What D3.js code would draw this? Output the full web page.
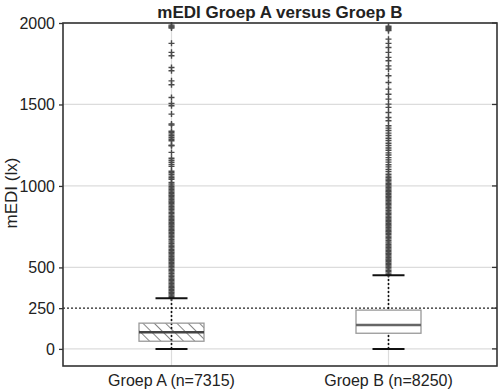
<!DOCTYPE html>
<html>
<head>
<meta charset="utf-8">
<script src="https://cdn.jsdelivr.net/npm/d3@7"></script>
<style>
body { margin: 0; background: #fff; }
text { font-family: "Liberation Sans", Arial, sans-serif; fill: #222; }
</style>
</head>
<body>
<svg id="chart" width="499" height="391"></svg>
<script>
// groups and box statistics (lx)
var groups = ['Groep A (n=7315)', 'Groep B (n=8250)'];
var q1 = [47, 96];
var medians = [102, 147];
var q3 = [158, 238];
var whiskLow = [0, 0];
var whiskHigh = [311, 452];
var threshold = 250;
var yTicks = [0, 250, 500, 1000, 1500, 2000];
var gridTicks = [0, 500, 1000, 1500, 2000];

var outliersA = [314,322,331,340,348,357,366,375,383,392,401,410,418,427,436,445,453,462,471,480,488,497,506,515,523,532,541,550,558,567,576,585,593,602,611,620,628,637,646,655,663,672,681,690,698,707,716,725,733,742,751,760,768,777,786,795,803,812,821,830,838,847,856,865,873,882,891,900,908,917,926,935,943,952,961,970,978,987,996,1005,1013,1022,
  1041,1050,1060,1072,1082,1090,1120,1132,1145,1158,1170,1206,1246,1250,1277,1287,1297,1308,1318,1328,1336,1373,1380,1441,1492,1506,1543,1621,1645,1707,1727,1799,1820,1875,1969,1975,1981,1987];
var outliersB = [456,465,474,482,491,500,509,517,526,535,544,552,561,570,579,587,596,605,614,622,631,640,649,657,666,675,684,692,701,710,719,727,736,745,754,762,771,780,789,797,806,815,824,832,841,850,859,867,876,885,894,902,911,920,929,937,946,955,964,972,981,990,999,1007,1016,1025,1034,1042,1051,1060,
  1072,1088,1101,1117,1130,1146,1160,1174,1190,1203,1219,1233,1248,1262,1279,1293,1310,1324,1340,1355,1369,1400,1420,1451,1482,1502,1533,1563,1594,1635,1676,1717,1737,1768,1789,1820,1850,1875,1901,1953,1960,1967,1973,1980];
var outliers = [outliersA, outliersB];

var plotLeft = 63, plotRight = 497, plotTop = 23, plotBottom = 366;
var svg = d3.select('#chart');

var x = d3.scalePoint().domain(groups).range([plotLeft, plotRight]).padding(0.5);
var y = d3.scaleLinear().domain([-105, 2000]).range([plotBottom, plotTop]);

var defs = svg.append('defs');
var pat = defs.append('pattern')
    .attr('id', 'hatch')
    .attr('patternUnits', 'userSpaceOnUse')
    .attr('width', 8).attr('height', 8)
    .attr('patternTransform', 'rotate(-45)');
pat.append('line')
    .attr('x1', 0).attr('y1', 0).attr('x2', 0).attr('y2', 8)
    .attr('stroke', '#333').attr('stroke-width', 1.2);

// grid
svg.append('g').selectAll('line')
    .data(gridTicks)
    .enter().append('line')
    .attr('x1', plotLeft).attr('x2', plotRight)
    .attr('y1', function (d) { return y(d); })
    .attr('y2', function (d) { return y(d); })
    .attr('stroke', '#dcdcdc').attr('stroke-width', 1.2);
svg.append('g').selectAll('line')
    .data(groups)
    .enter().append('line')
    .attr('x1', function (d) { return x(d); })
    .attr('x2', function (d) { return x(d); })
    .attr('y1', plotTop).attr('y2', plotBottom)
    .attr('stroke', '#dcdcdc').attr('stroke-width', 1.2);

// threshold line
svg.append('line')
    .attr('x1', plotLeft).attr('x2', plotRight)
    .attr('y1', y(threshold)).attr('y2', y(threshold))
    .attr('stroke', '#222').attr('stroke-width', 1.2)
    .attr('stroke-dasharray', '2,2');

var boxW = 65, capW = 32;
var g = svg.append('g').selectAll('g')
    .data(groups)
    .enter().append('g');

// whiskers
g.append('line')
    .attr('x1', function (d) { return x(d); })
    .attr('x2', function (d) { return x(d); })
    .attr('y1', function (d, i) { return y(whiskLow[i]); })
    .attr('y2', function (d, i) { return y(whiskHigh[i]); })
    .attr('stroke', '#111').attr('stroke-width', 1.6)
    .attr('stroke-dasharray', '2,2');

// outliers
g.each(function (d, i) {
    d3.select(this).selectAll('path.out')
        .data(outliers[i])
        .enter().append('path')
        .attr('class', 'out')
        .attr('d', function (v) {
            var cx = x(d), cy = y(v);
            return 'M' + (cx - 3) + ',' + cy + 'H' + (cx + 3) +
                'M' + cx + ',' + (cy - 3) + 'V' + (cy + 3);
        })
        .attr('stroke', '#4a4a4a').attr('stroke-width', 1.4)
        .attr('fill', 'none');
});

// caps
['low', 'high'].forEach(function (k) {
    g.append('line')
        .attr('x1', function (d) { return x(d) - capW / 2; })
        .attr('x2', function (d) { return x(d) + capW / 2; })
        .attr('y1', function (d, i) { return y(k == 'low' ? whiskLow[i] : whiskHigh[i]); })
        .attr('y2', function (d, i) { return y(k == 'low' ? whiskLow[i] : whiskHigh[i]); })
        .attr('stroke', '#111').attr('stroke-width', 2);
});

// boxes
g.append('rect')
    .attr('x', function (d) { return x(d) - boxW / 2; })
    .attr('width', boxW)
    .attr('y', function (d, i) { return y(q3[i]); })
    .attr('height', function (d, i) { return y(q1[i]) - y(q3[i]); })
    .attr('fill', function (d, i) { return i == 0 ? 'url(#hatch)' : '#fff'; })
    .attr('stroke', '#999').attr('stroke-width', 1.3);

g.append('line')
    .attr('x1', function (d) { return x(d) - boxW / 2; })
    .attr('x2', function (d) { return x(d) + boxW / 2; })
    .attr('y1', function (d, i) { return y(medians[i]); })
    .attr('y2', function (d, i) { return y(medians[i]); })
    .attr('stroke', function (d, i) { return i == 0 ? '#444' : '#666'; })
    .attr('stroke-width', 2.4);

// frame
svg.append('rect')
    .attr('x', plotLeft).attr('y', plotTop)
    .attr('width', plotRight - plotLeft).attr('height', plotBottom - plotTop)
    .attr('fill', 'none').attr('stroke', '#333').attr('stroke-width', 1.6);

// y axis
var yAxis = d3.axisLeft(y).tickValues(yTicks).tickFormat(d3.format('d')).tickSize(4).tickPadding(4);
var ya = svg.append('g').attr('transform', 'translate(' + plotLeft + ',0)').call(yAxis);
ya.select('.domain').remove();
ya.selectAll('line').attr('stroke', '#333').attr('stroke-width', 1.3);
ya.selectAll('text').style('font-size', '16px').attr('fill', '#222');

svg.append('g').selectAll('line')
    .data(yTicks)
    .enter().append('line')
    .attr('x1', plotRight - 5).attr('x2', plotRight)
    .attr('y1', function (d) { return y(d); })
    .attr('y2', function (d) { return y(d); })
    .attr('stroke', '#333').attr('stroke-width', 1.3);

// x labels
svg.append('g').selectAll('text')
    .data(groups)
    .enter().append('text')
    .attr('x', function (d) { return x(d); })
    .attr('y', 386)
    .attr('text-anchor', 'middle')
    .style('font-size', '16px')
    .text(function (d) { return d; });

svg.append('text')
    .attr('x', (plotLeft + plotRight) / 2).attr('y', 18)
    .attr('text-anchor', 'middle')
    .style('font-size', '17px').style('font-weight', 'bold')
    .text('mEDI Groep A versus Groep B');

svg.append('text')
    .attr('transform', 'translate(17,' + 193 + ') rotate(-90)')
    .attr('text-anchor', 'middle')
    .style('font-size', '17px')
    .text('mEDI (lx)');
</script>
</body>
</html>
